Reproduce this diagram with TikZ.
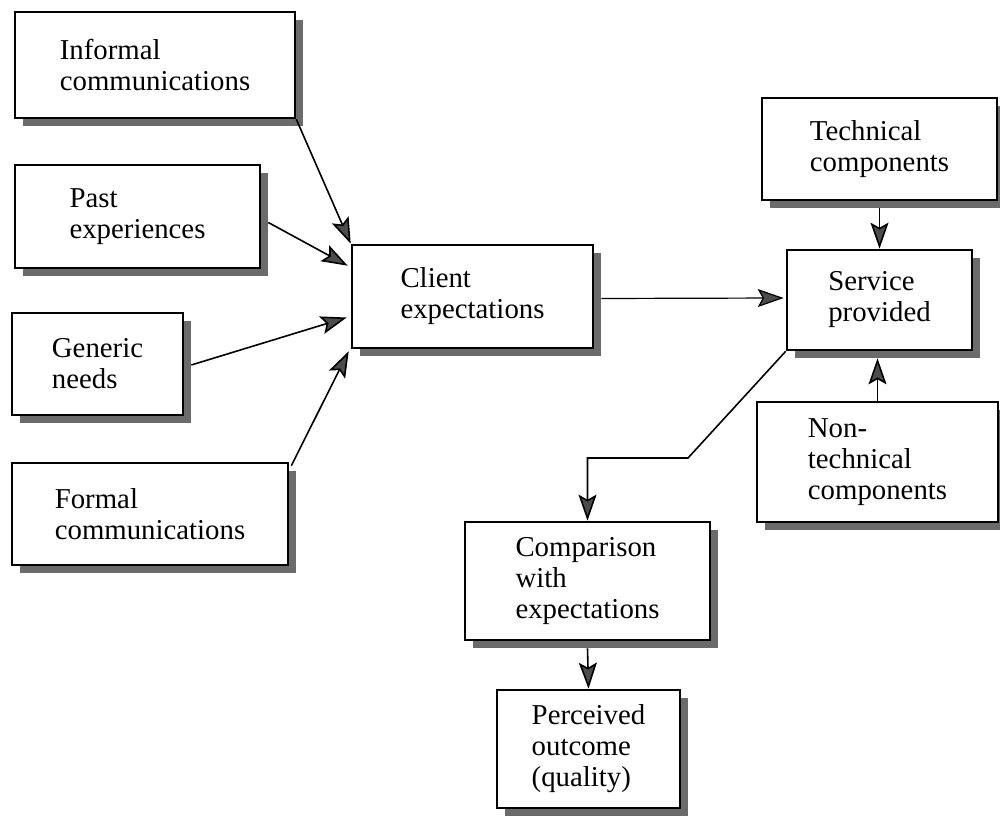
\documentclass[tikz,border=0pt]{standalone}
\usepackage{fontspec}
\setmainfont{Liberation Serif}
\usetikzlibrary{arrows.meta,shadows,calc}

\begin{document}
\begin{tikzpicture}[x=0.5pt,y=-0.5pt,
  box/.style={draw, line width=1.3pt, fill=white, align=left, inner sep=0pt,
    font=\fontsize{14.4}{15.5}\selectfont,
    drop shadow={shadow xshift=3.8pt, shadow yshift=-3.8pt, fill=black!58, opacity=1}},
  arr/.style={line width=0.8pt, -{Stealth[length=13pt,width=9pt,inset=2.5pt,fill=black!70]}},
  link/.style={line width=0.8pt}]
\useasboundingbox (0,0) rectangle (1000,817);

% input boxes on the left
\node[box, minimum width=140pt, minimum height=53pt]   (inf)  at (155,65)    {Informal\\communications};
\node[box, minimum width=122.5pt, minimum height=51.5pt] (past) at (137.5,216.5) {Past\\experiences};
\node[box, minimum width=85.5pt, minimum height=51pt]  (gen)  at (97.5,364)  {Generic\\needs};
\node[box, minimum width=138pt, minimum height=51pt]   (form) at (150,514)   {Formal\\communications};

% central chain
\node[box, minimum width=120.5pt, minimum height=51.5pt] (cli) at (472.5,296.5) {Client\\expectations};
\node[box, minimum width=117.5pt, minimum height=51pt]   (tech) at (879.5,149) {Technical\\components};
\node[box, minimum width=92.5pt, minimum height=50pt]    (serv) at (879.5,300) {Service\\provided};
\node[box, minimum width=120.5pt, minimum height=60pt]   (non)  at (877.5,462) {Non-\\technical\\components};
\node[box, minimum width=122.5pt, minimum height=59pt]   (comp) at (587.5,581) {Comparison\\with\\expectations};
\node[box, minimum width=91.5pt, minimum height=59pt]    (perc) at (588.5,749) {Perceived\\outcome\\(quality)};

% connectors into client expectations
\draw[arr] (inf.south east) -- (cli.north west);
\draw[arr] ($(past.east)+(7,6)$) -- ($(cli.north west)+(-3,22)$);
\draw[arr] ($(gen.east)+(7,1)$) -- ($(cli.west)+(-4,21)$);
\draw[arr] ($(form.north east)+(2,4)$) -- ($(cli.south west)+(-2,2)$);

% client expectations to service provided
\draw[arr, line width=0.6pt] ($(cli.east)+(7,2)$) -- ($(serv.west)+(-2,-2)$);
\draw[arr] ($(tech.south)+(0,7)$) -- (serv.north);
\draw[arr] (non.north) -- ($(serv.south)+(-2,7)$);

% service provided to comparison and outcome
\coordinate (kink) at (688,458);
\draw[arr] (serv.south west) -- (kink) -- (kink -| comp.north) -- (comp.north);
\draw[arr] ($(comp.south)+(0,7)$) -- (perc.north);
\end{tikzpicture}
\end{document}
